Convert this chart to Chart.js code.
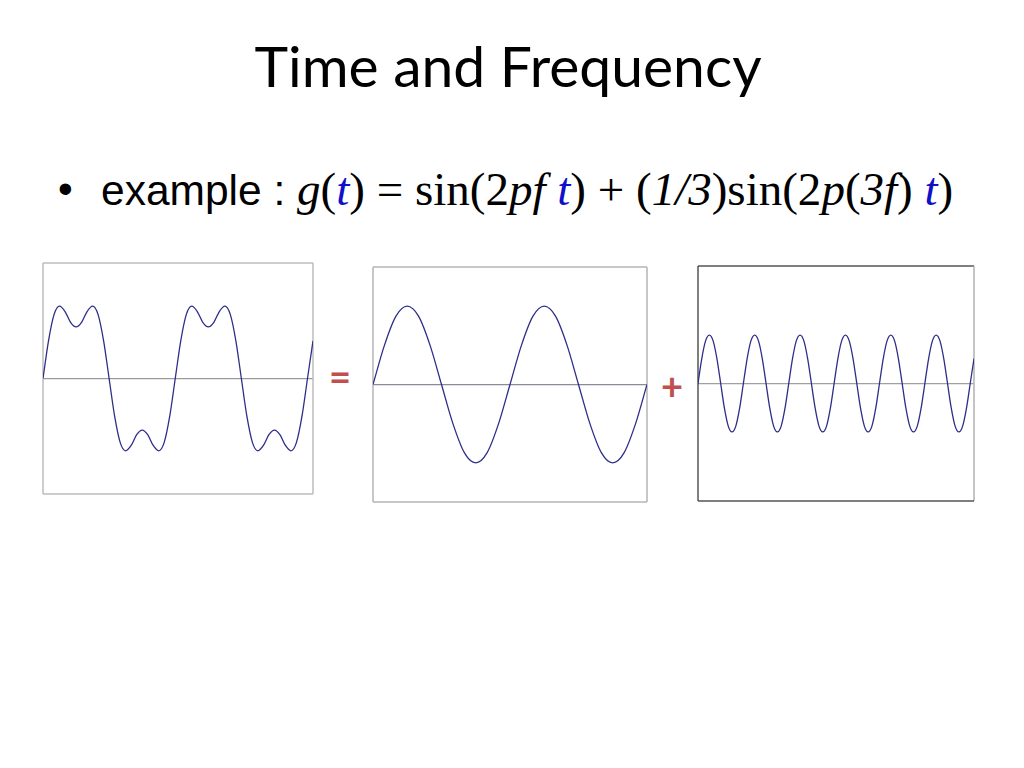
<!DOCTYPE html>
<html>
<head>
<meta charset="utf-8">
<script src="https://cdn.jsdelivr.net/npm/chart.js@4.4.1/dist/chart.umd.min.js"></script>
<style>
  html, body { margin: 0; padding: 0; background: #ffffff; }
  #page { position: relative; width: 1024px; height: 768px; overflow: hidden; background: #fff; }
  .abs { position: absolute; white-space: nowrap; }
  #title { left: 0; width: 1016px; top: 37px; text-align: center; font-family: Lato, "Open Sans", sans-serif; font-size: 57px; line-height: 57px; color: #000; }
  #bullet { left: 58px; top: 164px; font-family: "Liberation Sans", Arial, sans-serif; font-size: 42px; line-height: 50px; color: #000; }
  #line { left: 101px; top: 164px; font-family: "Liberation Sans", Arial, sans-serif; font-size: 42.5px; line-height: 50px; color: #000; }
  .m { font-family: "Liberation Serif", "Times New Roman", serif; font-size: 47px; }
  .i { font-style: italic; }
  .b { color: #1010c8; }
  .op { color: #c0504d; font-family: Lato, "Open Sans", sans-serif; font-weight: bold; font-size: 38px; line-height: 38px; width: 40px; text-align: center; }
  canvas { position: absolute; }
</style>
</head>
<body>
<div id="page">
  <div id="title" class="abs">Time and Frequency</div>
  <div id="bullet" class="abs">•</div>
  <div id="line" class="abs">example : <span class="m"><span class="i">g</span>(<span class="i b">t</span>) = sin(2<span class="i">pf</span> <span class="i b">t</span>) + (<span class="i">1/3</span>)sin(2<span class="i">p</span>(<span class="i">3f</span>) <span class="i b">t</span>)</span></div>
  <div class="abs op" style="left:320px; top:357px;">=</div>
  <div class="abs op" style="left:652px; top:366px;">+</div>
  <canvas id="c1" style="left:41px; top:261px;" width="274" height="235"></canvas>
  <canvas id="c2" style="left:371px; top:265px;" width="278" height="239"></canvas>
  <canvas id="c3" style="left:696px; top:264px;" width="280" height="239"></canvas>
</div>
<script>
// ---- Data ----
// Left panel: g(t) (fundamental + one-third of third harmonic)
const sumT = [0,15,30,45,60,75,90,105,120,135,150,165,180,195,210,225,240,255,270,285,300,315,330,345,
              360,375,390,405,420,435,450,465,480,495,510,525,540,555,570,585,600,615,630,645,660,675,690,705,
              720,735];
const sumY = [0,0.49,0.83,0.94,0.87,0.73,0.67,0.73,0.87,0.94,0.83,0.49,0,-0.49,-0.83,-0.94,-0.87,-0.73,-0.67,-0.73,-0.87,-0.94,-0.83,-0.49,
              0,0.49,0.83,0.94,0.87,0.73,0.67,0.73,0.87,0.94,0.83,0.49,0,-0.49,-0.83,-0.94,-0.87,-0.73,-0.67,-0.73,-0.87,-0.94,-0.83,-0.49,
              0,0.49];
// Middle panel: fundamental sin(2πft)
const fundT = [0,30,60,90,120,150,180,210,240,270,300,330,360,390,420,450,480,510,540,570,600,630,660,690,720];
const fundY = [0,0.5,0.87,1,0.87,0.5,0,-0.5,-0.87,-1,-0.87,-0.5,0,0.5,0.87,1,0.87,0.5,0,-0.5,-0.87,-1,-0.87,-0.5,0];
// Right panel: (1/3) sin(2π(3f)t)
const harmT = [0,10,20,30,40,50,60,70,80,90,100,110,120,130,140,150,160,170,180,190,200,210,220,230,
               240,250,260,270,280,290,300,310,320,330,340,350,360,370,380,390,400,410,420,430,440,450,460,470,
               480,490,500,510,520,530,540,550,560,570,580,590,600,610,620,630,640,650,660,670,680,690,700,710,
               720,730];
const harmY = [0,0.17,0.29,0.33,0.29,0.17,0,-0.17,-0.29,-0.33,-0.29,-0.17,
               0,0.17,0.29,0.33,0.29,0.17,0,-0.17,-0.29,-0.33,-0.29,-0.17,
               0,0.17,0.29,0.33,0.29,0.17,0,-0.17,-0.29,-0.33,-0.29,-0.17,
               0,0.17,0.29,0.33,0.29,0.17,0,-0.17,-0.29,-0.33,-0.29,-0.17,
               0,0.17,0.29,0.33,0.29,0.17,0,-0.17,-0.29,-0.33,-0.29,-0.17,
               0,0.17,0.29,0.33,0.29,0.17,0,-0.17,-0.29,-0.33,-0.29,-0.17,
               0,0.17];
const sumRange = 1.5, fundRange = 1.5, harmRange = 0.8;

const framePlugin = {
  id: 'frame',
  beforeDatasetsDraw(chart, args, opts) {
    const a = chart.chartArea, c = chart.ctx;
    const sides = [
      [opts.top, a.left, a.top, a.right, a.top],
      [opts.right, a.right, a.top, a.right, a.bottom],
      [opts.bottom, a.left, a.bottom, a.right, a.bottom],
      [opts.left, a.left, a.top, a.left, a.bottom]
    ];
    c.save();
    c.lineWidth = opts.width || 1.5;
    sides.forEach(s => {
      c.strokeStyle = s[0];
      c.beginPath(); c.moveTo(s[1], s[2]); c.lineTo(s[3], s[4]); c.stroke();
    });
    c.restore();
  }
};

function makeChart(id, ts, ys, range, frame, zeroColor) {
  const pts = ts.map((t, i) => ({ x: t, y: ys[i] }));
  return new Chart(document.getElementById(id), {
    type: 'line',
    data: { datasets: [{ data: pts, borderColor: '#2e2e88', borderWidth: 1.3, pointRadius: 0, cubicInterpolationMode: 'monotone', fill: false }] },
    options: {
      responsive: false, animation: false, devicePixelRatio: 1,
      layout: { padding: 2 },
      plugins: { legend: { display: false }, tooltip: { enabled: false }, frame: frame },
      scales: {
        x: { type: 'linear', min: ts[0], max: ts[ts.length - 1], display: false },
        y: {
          min: -range, max: range,
          ticks: { display: false, stepSize: range },
          border: { display: false },
          grid: { drawTicks: false, lineWidth: 1.3, color: (ctx) => (ctx.tick && ctx.tick.value === 0) ? zeroColor : 'rgba(0,0,0,0)' }
        }
      }
    },
    plugins: [framePlugin]
  });
}

makeChart('c1', sumT, sumY, sumRange, { top: '#bdbdbd', right: '#bdbdbd', bottom: '#bdbdbd', left: '#bdbdbd', width: 1.5 }, '#9a9a9a');
makeChart('c2', fundT, fundY, fundRange, { top: '#b5b5b5', right: '#b5b5b5', bottom: '#b5b5b5', left: '#b5b5b5', width: 1.5 }, '#8a8a9a');
makeChart('c3', harmT, harmY, harmRange, { top: '#555555', right: '#b0b0b0', bottom: '#555555', left: '#555555', width: 1.5 }, '#a0a0a0');
</script>
</body>
</html>
